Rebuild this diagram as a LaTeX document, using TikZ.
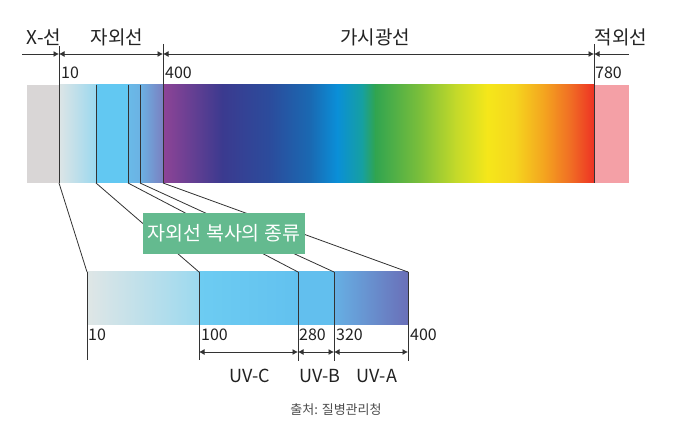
\documentclass[tikz,border=0pt]{standalone}
\usepackage{fontspec}
\setmainfont{Noto Sans CJK KR}
\usetikzlibrary{arrows.meta}
\definecolor{linec}{HTML}{333333}
\definecolor{grayx}{HTML}{D9D6D6}
\definecolor{pinkir}{HTML}{F4A0A6}
\definecolor{boxg}{HTML}{64BA8F}
\definecolor{s1}{HTML}{8E4496}
\definecolor{s2}{HTML}{3B3A8F}
\definecolor{s3}{HTML}{2B4C9C}
\definecolor{s4}{HTML}{1A69B2}
\definecolor{s5}{HTML}{0A8FD8}
\definecolor{s6}{HTML}{16A0A0}
\definecolor{s7}{HTML}{30A450}
\definecolor{s8}{HTML}{7CBF3A}
\definecolor{s9}{HTML}{C2D92A}
\definecolor{s10}{HTML}{F5E71A}
\definecolor{s11}{HTML}{F5D51E}
\definecolor{s12}{HTML}{F4A21F}
\definecolor{s13}{HTML}{F06E24}
\definecolor{s14}{HTML}{EE3224}
\definecolor{u0}{HTML}{DDE5E6}
\definecolor{u1}{HTML}{9AD8EF}
\definecolor{u2}{HTML}{62C8F2}
\definecolor{u3}{HTML}{6ABAE8}
\definecolor{u4}{HTML}{6BB2E3}
\definecolor{u5}{HTML}{7B7FC0}
\definecolor{v0}{HTML}{DFE6E6}
\definecolor{v1}{HTML}{9CD9EF}
\definecolor{v2}{HTML}{6DCCF2}
\definecolor{v3}{HTML}{62C1EF}
\definecolor{v4}{HTML}{62BFEE}
\definecolor{v5}{HTML}{66B0E4}
\definecolor{v6}{HTML}{6A6FB8}
\definecolor{txt}{HTML}{222222}
\tikzset{
  tick/.style={draw=linec, line width=0.9pt},
  conn/.style={draw=linec, line width=0.8pt},
  dim/.style={draw=linec, line width=0.9pt},
  tipl/.style={{Latex[length=5.5pt,width=6pt]}-},
  tipr/.style={-{Latex[length=5.5pt,width=6pt]}},
  tipb/.style={{Latex[length=5.5pt,width=6pt]}-{Latex[length=5.5pt,width=6pt]}},
  head/.style={font=\fontsize{19}{22}\selectfont, text=txt, inner sep=0pt},
  num/.style={font=\fontsize{16}{18}\selectfont, text=txt, inner sep=0pt, anchor=west},
  uvl/.style={font=\fontsize{18}{21}\selectfont, text=txt, inner sep=0pt},
  titlebox/.style={fill=boxg, text=white, font=\fontsize{19.5}{22}\selectfont, minimum width=162pt, minimum height=41pt, inner sep=0pt},
  src/.style={font=\fontsize{13}{15}\selectfont, text=black!70, inner sep=0pt}
}
\begin{document}
\begin{tikzpicture}[x=1pt,y=-1pt]
\useasboundingbox[fill=white] (0,0) rectangle (675,430);

% ---------- top bar ----------
\fill[grayx] (27,85) rectangle (59.5,183);
\fill[pinkir] (594,85) rectangle (629,183);
\foreach \xa/\xb/\ca/\cb in {59/96.4/u0/u1, 96/128.4/u2/u2, 128/140.4/u3/u4, 140/163.4/u4/u5,
  163/222.4/s1/s2, 222/270.4/s2/s3, 270/310.4/s3/s4, 310/337.4/s4/s5, 337/362.4/s5/s6,
  362/375.4/s6/s7, 375/420.4/s7/s8, 420/455.4/s8/s9, 455/487.4/s9/s10, 487/515.4/s10/s11,
  515/545.4/s11/s12, 545/570.4/s12/s13, 570/594.2/s13/s14}
  \shade[left color=\ca, right color=\cb] (\xa,85) rectangle (\xb,183);

% ---------- bottom bar ----------
\foreach \xa/\xb/\ca/\cb in {87/199.4/v0/v1, 199/298.4/v2/v3, 298/334.4/v4/v4, 334/408/v5/v6}
  \shade[left color=\ca, right color=\cb] (\xa,272) rectangle (\xb,325);

% ---------- coordinates ----------
\coordinate (t10) at (59,183);
\coordinate (ta) at (96,183);
\coordinate (tb) at (128,183);
\coordinate (tc) at (140,183);
\coordinate (t400) at (163,183);
\coordinate (t780) at (594,183);
\coordinate (t10u) at (59,46);
\coordinate (tau) at (96,85);
\coordinate (tbu) at (128,85);
\coordinate (tcu) at (140,85);
\coordinate (t400u) at (163,44);
\coordinate (t780u) at (594,44);
\coordinate (aL) at (22,54);
\coordinate (a10) at (59,54);
\coordinate (a400) at (163,54);
\coordinate (a780) at (594,54);
\coordinate (aR) at (629,54);

\coordinate (b10) at (87,272);
\coordinate (b100) at (199,272);
\coordinate (b280) at (298,272);
\coordinate (b320) at (334,272);
\coordinate (b400) at (408,272);
\coordinate (b10d) at (87,360);
\coordinate (b100d) at (199,360);
\coordinate (b280d) at (298,361);
\coordinate (b320d) at (334,361);
\coordinate (b400d) at (408,361);
\coordinate (d100) at (199,352);
\coordinate (d280) at (298,352);
\coordinate (d320) at (334,352);
\coordinate (d400) at (408,352);

% ---------- ticks ----------
\draw[tick] (t10u) -- (t10);
\draw[tick] (tau) -- (ta);
\draw[tick] (tbu) -- (tb);
\draw[tick] (tcu) -- (tc);
\draw[tick] (t400u) -- (t400);
\draw[tick] (t780u) -- (t780);
\draw[tick] (b10) -- (b10d);
\draw[tick] (b100) -- (b100d);
\draw[tick] (b280) -- (b280d);
\draw[tick] (b320) -- (b320d);
\draw[tick] (b400) -- (b400d);

% ---------- range arrows ----------
\draw[dim, tipr] (aL) -- (a10);
\draw[dim, tipb] (a10) -- (a400);
\draw[dim, tipb] (a400) -- (a780);
\draw[dim, tipl] (a780) -- (aR);
\draw[dim, tipb] (d100) -- (d280);
\draw[dim, tipb] (d280) -- (d320);
\draw[dim, tipb] (d320) -- (d400);

% ---------- connectors ----------
\draw[conn] (t10) -- (b10);
\draw[conn] (ta) -- (b100);
\draw[conn] (tb) -- (b280);
\draw[conn] (tc) -- (b320);
\draw[conn] (t400) -- (b400);

% ---------- title box ----------
\node[titlebox] (title) at (224,233.5) {자외선 복사의 종류};

% ---------- labels ----------
\node[head] (lx) at (44,37) {X-선};
\node[head] (luv) at (117,37) {자외선};
\node[head] (lvis) at (375,37) {가시광선};
\node[head] (lir) at (621,37) {적외선};
\node[num] (n10) at (61,73) {10};
\node[num] (n400) at (165,73) {400};
\node[num] (n780) at (595,73) {780};
\node[num] (m10) at (88,335) {10};
\node[num] (m100) at (201,335) {100};
\node[num] (m280) at (299,335) {280};
\node[num] (m320) at (336,335) {320};
\node[num] (m400) at (410,335) {400};
\node[uvl] (uvc) at (250,376) {UV-C};
\node[uvl] (uvb) at (320,376) {UV-B};
\node[uvl] (uva) at (377,376) {UV-A};
\node[src] (source) at (336,410) {출처: 질병관리청};
\end{tikzpicture}
\end{document}
